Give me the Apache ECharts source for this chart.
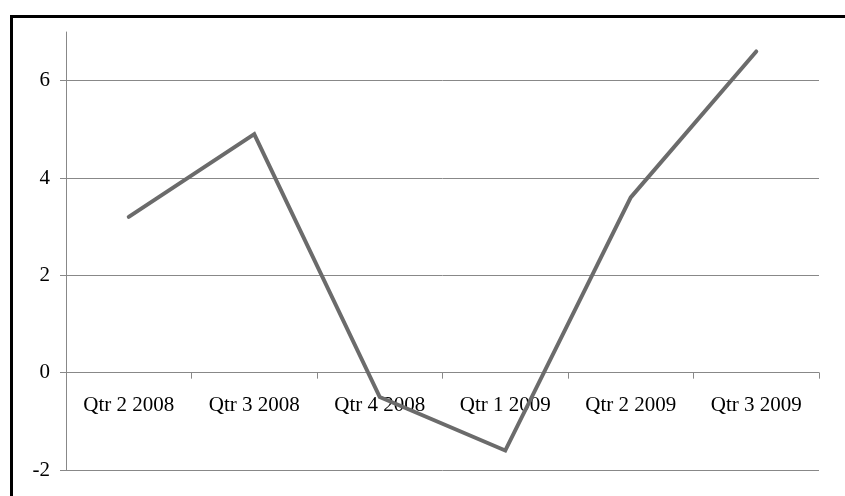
<!DOCTYPE html>
<html>
<head>
<meta charset="utf-8">
<style>
  html, body { margin: 0; padding: 0; background: #fff; }
  #chart { width: 845px; height: 496px; }
</style>
<script src="https://cdn.jsdelivr.net/npm/echarts@6/dist/echarts.min.js"></script>
</head>
<body>
<div id="chart"></div>
<script>
// Quarterly values
const categories = ['Qtr 2 2008', 'Qtr 3 2008', 'Qtr 4 2008', 'Qtr 1 2009', 'Qtr 2 2009', 'Qtr 3 2009'];
const values = [3.2, 4.9, -0.5, -1.6, 3.6, 6.6];
const yTicks = [-2, 0, 2, 4, 6];

const yMin = -2, yMax = 7;
const gridTop = 32, gridBottom = 26, chartH = 496;
const plotH = chartH - gridTop - gridBottom;
// distance from the bottom of the plot up to the zero line, so the labels can sit under it
const zeroOffset = -plotH * (0 - yMin) / (yMax - yMin);

const chart = echarts.init(document.getElementById('chart'), null, { renderer: 'canvas' });
const font = '"Liberation Serif", "Times New Roman", serif';

chart.setOption({
  animation: false,
  backgroundColor: '#fff',
  graphic: [{
    type: 'rect',
    shape: { x: 11.5, y: 16.5, width: 900, height: 600 },
    style: { fill: 'none', stroke: '#000', lineWidth: 3 },
    silent: true,
    z: 10
  }],
  grid: { left: 66, right: 26, top: gridTop, bottom: gridBottom, containLabel: false, outerBoundsMode: 'none' },
  xAxis: [{
    type: 'category',
    data: categories,
    boundaryGap: true,
    axisLine: { onZero: true, lineStyle: { color: '#888', width: 1 } },
    axisTick: { show: true, length: 6, inside: false, lineStyle: { color: '#888' } },
    axisLabel: { show: false },
    splitLine: { show: false }
  }, {
    // category labels placed just below the zero line
    type: 'category',
    data: categories,
    boundaryGap: true,
    position: 'bottom',
    offset: zeroOffset,
    axisLine: { show: false },
    axisTick: { show: false },
    axisLabel: { margin: 22, color: '#000', fontFamily: font, fontSize: 21, hideOverlap: false },
    splitLine: { show: false }
  }],
  yAxis: {
    type: 'value',
    min: yMin,
    max: yMax,
    interval: 2,
    axisLine: { show: true, lineStyle: { color: '#888', width: 1 } },
    axisTick: { show: true, length: 6, lineStyle: { color: '#888' }, customValues: yTicks },
    axisLabel: {
      margin: 16, color: '#000', fontFamily: font, fontSize: 21,
      customValues: yTicks
    },
    splitLine: { show: true, lineStyle: { color: '#888', width: 1 } }
  },
  series: [{
    type: 'line',
    data: values,
    xAxisIndex: 0,
    symbol: 'none',
    lineStyle: { color: '#6b6b6b', width: 4, cap: 'round', join: 'miter' },
    z: 5
  }]
});
</script>
</body>
</html>
